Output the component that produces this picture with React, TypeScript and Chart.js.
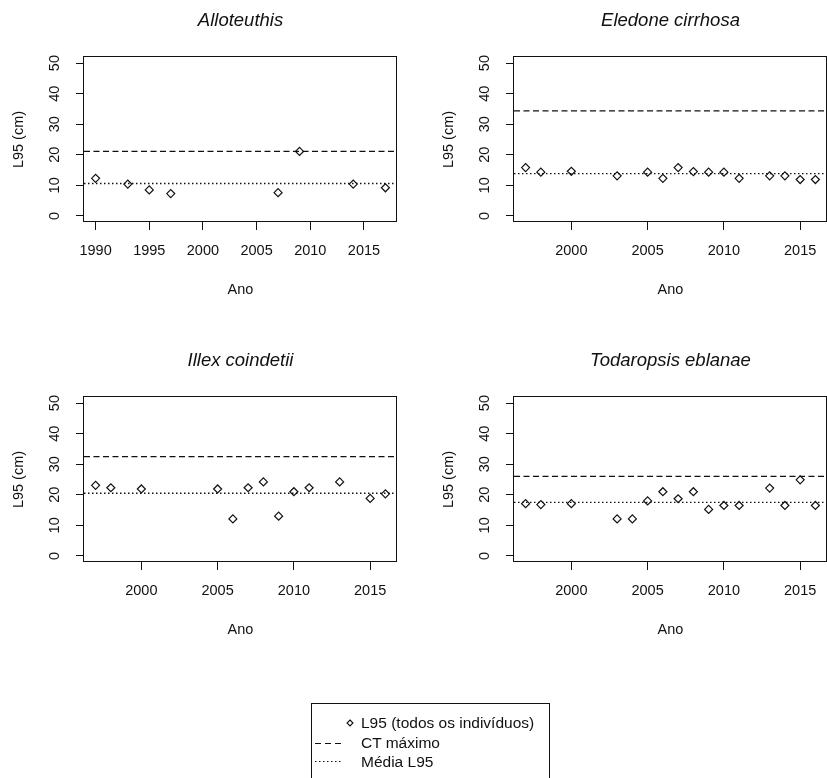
import React, { useEffect, useRef } from 'react';
import { Chart, registerables } from 'chart.js';

Chart.register(...registerables);

const FONT = '"Liberation Sans", Arial, Helvetica, sans-serif';
const INK = '#111111';

// ---- Data -------------------------------------------------------------
const yTickValues = [0, 10, 20, 30, 40, 50];

// Alloteuthis
const alloYears = [1990, 1993, 1995, 1997, 2007, 2009, 2014, 2017];
const alloL95 = [12.3, 10.4, 8.5, 7.3, 7.6, 21.1, 10.4, 9.2];
const alloCtMax = 21.1;
const alloMean = 10.6;
const alloXTicks = [1990, 1995, 2000, 2005, 2010, 2015];

// Eledone cirrhosa
const eledYears = [1997, 1998, 2000, 2003, 2005, 2006, 2007, 2008, 2009, 2010, 2011, 2013, 2014, 2015, 2016];
const eledL95 = [15.8, 14.3, 14.6, 13.1, 14.3, 12.3, 15.8, 14.5, 14.3, 14.3, 12.3, 13.1, 13.1, 11.9, 11.9];
const eledCtMax = 34.4;
const eledMean = 13.8;

// Illex coindetii
const illeYears = [1997, 1998, 2000, 2005, 2006, 2007, 2008, 2009, 2010, 2011, 2013, 2015, 2016];
const illeL95 = [23.1, 22.3, 21.9, 21.9, 12.1, 22.3, 24.2, 13.0, 21.0, 22.3, 24.2, 18.8, 20.3];
const illeCtMax = 32.5;
const illeMean = 20.5;

// Todaropsis eblanae
const todaYears = [1997, 1998, 2000, 2003, 2004, 2005, 2006, 2007, 2008, 2009, 2010, 2011, 2013, 2014, 2015, 2016];
const todaL95 = [17.1, 16.8, 17.1, 12.1, 12.1, 18.0, 21.0, 18.7, 21.0, 15.2, 16.5, 16.5, 22.2, 16.5, 24.9, 16.5];
const todaCtMax = 26.0;
const todaMean = 17.5;

const lateXTicks = [2000, 2005, 2010, 2015];

// R-style 4% axis extension
function extendRange(values: number[]): [number, number] {
  const lo = Math.min(...values);
  const hi = Math.max(...values);
  const d = (hi - lo) * 0.04;
  return [lo - d, hi + d];
}

type PanelDef = {
  title: string;
  years: number[];
  l95: number[];
  ctMax: number;
  mean: number;
  xTicks: number[];
  left: number;
  top: number;
};

const panels: PanelDef[] = [
  { title: 'Alloteuthis', years: alloYears, l95: alloL95, ctMax: alloCtMax, mean: alloMean, xTicks: alloXTicks, left: 0, top: 0 },
  { title: 'Eledone cirrhosa', years: eledYears, l95: eledL95, ctMax: eledCtMax, mean: eledMean, xTicks: lateXTicks, left: 430, top: 0 },
  { title: 'Illex coindetii', years: illeYears, l95: illeL95, ctMax: illeCtMax, mean: illeMean, xTicks: lateXTicks, left: 0, top: 340 },
  { title: 'Todaropsis eblanae', years: todaYears, l95: todaL95, ctMax: todaCtMax, mean: todaMean, xTicks: lateXTicks, left: 430, top: 340 },
];

const CW = 414;
const CH = 340;
const BOX_LEFT = 84;
const BOX_RIGHT = 397;
const BOX_TOP = 57;
const BOX_BOTTOM = 222;
const XSCALE_H = 80;

const framePlugin = {
  id: 'rframe',
  afterDraw(chart: any, _args: any, opts: any) {
    const { ctx, chartArea } = chart;
    const { left, top, right, bottom } = chartArea;
    ctx.save();
    ctx.strokeStyle = INK;
    ctx.lineWidth = 1;
    ctx.strokeRect(Math.round(left) - 0.5, Math.round(top) - 0.5, Math.round(right) - Math.round(left), Math.round(bottom) - Math.round(top));
    ctx.fillStyle = INK;
    ctx.font = `italic 18.5px ${FONT}`;
    ctx.textAlign = 'center';
    ctx.textBaseline = 'alphabetic';
    ctx.fillText(opts.text || '', (left + right) / 2, 25.5);
    ctx.restore();
  },
};

function Panel({ p }: { p: PanelDef }) {
  const ref = useRef<HTMLCanvasElement | null>(null);
  useEffect(() => {
    if (!ref.current) return;
    const [xMin, xMax] = extendRange(p.years);
    const chart = new Chart(ref.current, {
      type: 'scatter',
      data: {
        datasets: [
          {
            label: 'L95 (todos os indivíduos)',
            data: p.years.map((x, i) => ({ x, y: p.l95[i] })),
            pointStyle: 'rectRot',
            pointRadius: 4,
            pointBorderWidth: 1.2,
            borderColor: INK,
            backgroundColor: 'rgba(0,0,0,0)',
            showLine: false,
          } as any,
          {
            type: 'line',
            label: 'CT máximo',
            data: [{ x: xMin, y: p.ctMax }, { x: xMax, y: p.ctMax }],
            borderColor: INK,
            borderWidth: 1.2,
            borderDash: [6, 3.5],
            pointRadius: 0,
            fill: false,
            tension: 0,
          } as any,
          {
            type: 'line',
            label: 'Média L95',
            data: [{ x: xMin, y: p.mean }, { x: xMax, y: p.mean }],
            borderColor: INK,
            borderWidth: 1.3,
            borderDash: [1.5, 2.5],
            pointRadius: 0,
            fill: false,
            tension: 0,
          } as any,
        ],
      },
      options: {
        responsive: false,
        animation: false,
        devicePixelRatio: 1,
        layout: {
          padding: { left: 0, top: BOX_TOP, right: CW - BOX_RIGHT, bottom: CH - BOX_BOTTOM - XSCALE_H },
        },
        plugins: {
          legend: { display: false },
          tooltip: { enabled: false },
          title: { display: false },
          rframe: { text: p.title },
        } as any,
        scales: {
          x: {
            type: 'linear',
            min: xMin,
            max: xMax,
            afterBuildTicks: (s: any) => {
              s.ticks = p.xTicks.map((v) => ({ value: v }));
            },
            afterFit: (s: any) => {
              s.height = XSCALE_H;
            },
            grid: { drawOnChartArea: false, drawTicks: true, tickLength: 8, color: INK, lineWidth: 1 },
            border: { display: false },
            ticks: {
              autoSkip: false,
              maxRotation: 0,
              minRotation: 0,
              padding: 12,
              color: INK,
              font: { family: FONT, size: 14.5 },
              callback: (v: any) => String(v),
            },
            title: {
              display: true,
              text: 'Ano',
              color: INK,
              font: { family: FONT, size: 14.5, lineHeight: 1 },
              padding: { top: 0, bottom: 4.75 },
            },
          },
          y: {
            type: 'linear',
            min: -2,
            max: 52,
            afterBuildTicks: (s: any) => {
              s.ticks = yTickValues.map((v) => ({ value: v }));
            },
            afterFit: (s: any) => {
              s.width = BOX_LEFT;
            },
            grid: { drawOnChartArea: false, drawTicks: true, tickLength: 8, color: INK, lineWidth: 1 },
            border: { display: false },
            ticks: {
              autoSkip: false,
              minRotation: 90,
              maxRotation: 90,
              crossAlign: 'center',
              padding: 13,
              color: INK,
              font: { family: FONT, size: 14.5 },
              callback: (v: any) => String(v),
            },
            title: {
              display: true,
              text: 'L95 (cm)',
              color: INK,
              font: { family: FONT, size: 14.5, lineHeight: 1 },
              padding: { top: 11.75, bottom: 0 },
            },
          },
        },
      } as any,
      plugins: [framePlugin],
    });
    return () => chart.destroy();
  }, [p]);
  return (
    <canvas
      ref={ref}
      width={CW}
      height={CH}
      style={{ position: 'absolute', left: p.left, top: p.top, width: CW, height: CH }}
    />
  );
}

const legendLabels = ['L95 (todos os indivíduos)', 'CT máximo', 'Média L95'];

function Legend() {
  const rowCenters = [723, 743, 761.7];
  const textStyle: React.CSSProperties = {
    position: 'absolute',
    left: 361,
    fontFamily: FONT,
    fontSize: 15.5,
    lineHeight: '18px',
    color: INK,
    whiteSpace: 'nowrap',
  };
  return (
    <>
      <div
        style={{
          position: 'absolute',
          left: 311,
          top: 703,
          width: 239,
          height: 90,
          border: `1px solid ${INK}`,
          boxSizing: 'border-box',
        }}
      />
      <svg style={{ position: 'absolute', left: 0, top: 0 }} width={827} height={778}>
        <path d={`M350 ${723 - 3} L353 723 L350 ${723 + 3} L347 723 Z`} fill="none" stroke={INK} strokeWidth={1.1} />
        <line x1={315} y1={743.5} x2={342} y2={743.5} stroke={INK} strokeWidth={1.1} strokeDasharray="6 4" />
        <line x1={315} y1={761.5} x2={342} y2={761.5} stroke={INK} strokeWidth={1.2} strokeDasharray="1.5 2.5" />
      </svg>
      {legendLabels.map((t, i) => (
        <div key={t} style={{ ...textStyle, top: rowCenters[i] - 9 }}>
          {t}
        </div>
      ))}
    </>
  );
}

export default function App() {
  return (
    <div
      style={{
        position: 'fixed',
        left: 0,
        top: 0,
        width: 827,
        height: 778,
        overflow: 'hidden',
        background: '#ffffff',
      }}
    >
      {panels.map((p) => (
        <Panel key={p.title} p={p} />
      ))}
      <Legend />
    </div>
  );
}
